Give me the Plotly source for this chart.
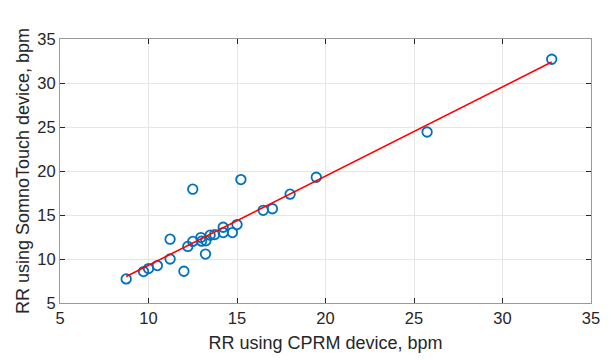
import plotly.graph_objects as go
import numpy as np

# Data
cprm_rr = [8.74, 9.72, 10.0, 10.5, 11.22, 11.22, 12.0, 12.22, 12.5, 12.5, 12.96, 13.0,
           13.24, 13.22, 13.48, 13.74, 14.22, 14.22, 14.74, 15.0, 15.22, 16.48, 17.0,
           18.0, 19.48, 25.74, 32.78]
somno_rr = [7.74, 8.57, 8.91, 9.25, 10.0, 12.25, 8.61, 11.43, 12.0, 17.93, 12.44, 12.03,
            12.07, 10.56, 12.71, 12.78, 13.61, 13.0, 13.0, 13.91, 19.02, 15.53, 15.71,
            17.37, 19.29, 24.43, 32.7]
fit_slope = 1.014
fit_intercept = -0.86
tick_vals = [5, 10, 15, 20, 25, 30, 35]

fx = np.array([min(cprm_rr), max(cprm_rr)])
fy = fit_slope * fx + fit_intercept

FONT = "Liberation Sans, Arial, sans-serif"

fig = go.Figure()
fig.add_trace(go.Scatter(x=cprm_rr, y=somno_rr, mode="markers",
                         marker=dict(symbol="circle-open", size=9.5, color="#0072BD",
                                     line=dict(width=1.8, color="#0072BD")),
                         showlegend=False))
fig.add_trace(go.Scatter(x=fx, y=fy, mode="lines",
                         line=dict(color="#FF0000", width=1.6), showlegend=False))

axis_common = dict(range=[5, 35], tickvals=tick_vals, ticks="inside", ticklen=5,
                   tickcolor="#262626", showline=True, linecolor="#9a9a9a", linewidth=1,
                   mirror="ticks", showgrid=True, gridcolor="#e6e6e6", gridwidth=1,
                   zeroline=False, tickfont=dict(size=16.5, color="#262626", family=FONT))
fig.update_xaxes(**axis_common,
                 title=dict(text="RR using CPRM device, bpm", standoff=10,
                            font=dict(size=18, color="#262626", family=FONT)))
fig.update_yaxes(**axis_common,
                 title=dict(text="RR using SomnoTouch device, bpm", standoff=3,
                            font=dict(size=18, color="#262626", family=FONT)))
fig.update_layout(width=611, height=360, margin=dict(l=60, r=11, t=39, b=55),
                  plot_bgcolor="white", paper_bgcolor="white")
fig.write_html("out.html")
